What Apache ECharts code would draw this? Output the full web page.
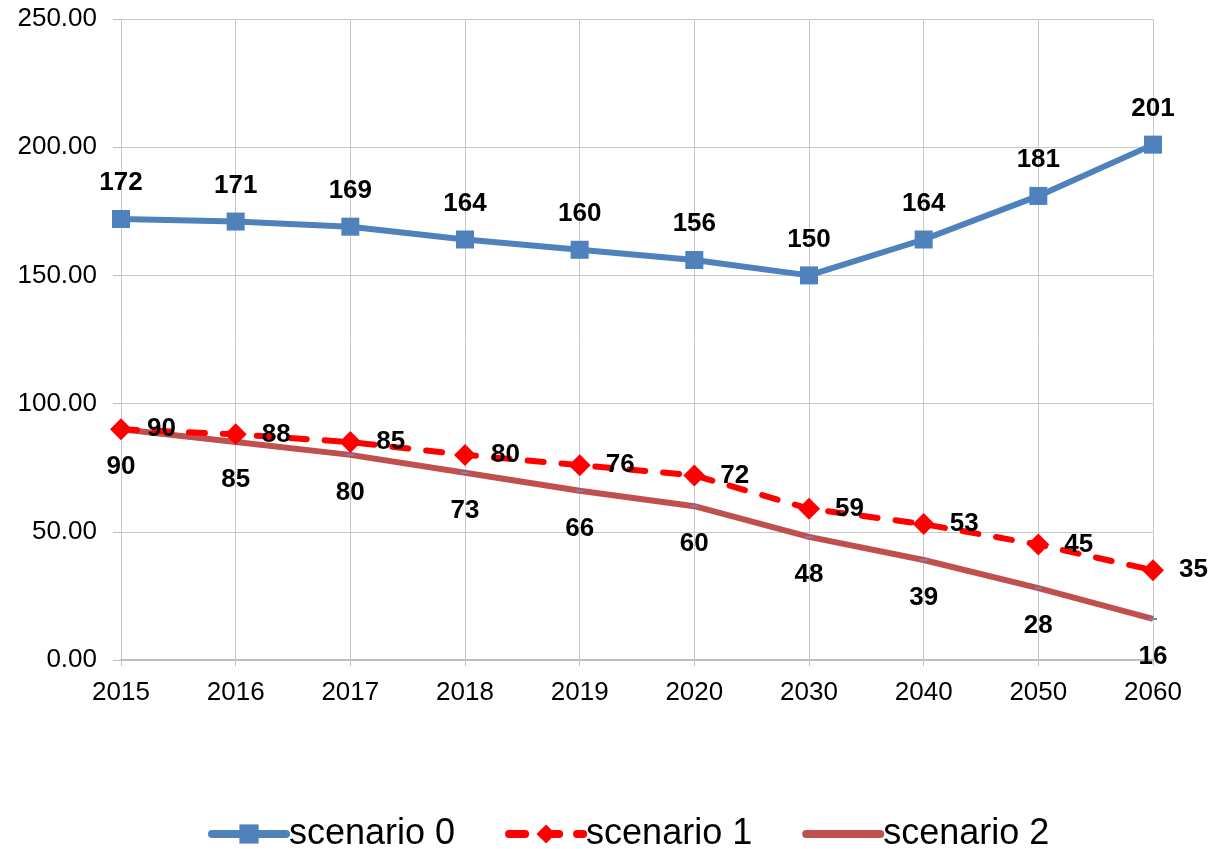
<!DOCTYPE html>
<html><head><meta charset="utf-8">
<script src="https://cdn.jsdelivr.net/npm/echarts@6/dist/echarts.min.js"></script>
<style>html,body{margin:0;padding:0;background:#fff}#c{width:1220px;height:849px}</style>
</head><body><div id="c"></div>
<script>
const categories = ['2015','2016','2017','2018','2019','2020','2030','2040','2050','2060'];
const scenario0 = [172, 171, 169, 164, 160, 156, 150, 164, 181, 201];
const scenario1 = [90, 88, 85, 80, 76, 72, 59, 53, 45, 35];
const scenario2 = [90, 85, 80, 73, 66, 60, 48, 39, 28, 16];
const seriesNames = ['scenario 0', 'scenario 1', 'scenario 2'];

const font = 'Liberation Sans, Arial, sans-serif';
const lbl = (pos, dist) => ({show: true, position: pos, distance: dist, fontFamily: font,
  fontSize: 26, fontWeight: 'bold', color: '#000', formatter: p => Math.round(p.value)});

const chart = echarts.init(document.getElementById('c'));
chart.setOption({
  animation: false,
  grid: {left: 121, right: 67, top: 19, bottom: 189},
  legend: {
    top: 811, left: 203, itemWidth: 74, itemHeight: 24, itemGap: 50,
    textStyle: {fontFamily: font, fontSize: 36, color: '#000', padding: [0, 0, 0, -2]},
    lineStyle: {width: 8, cap: 'round'},
    data: [
      {name: seriesNames[0]},
      {name: seriesNames[1]},
      {name: seriesNames[2], itemStyle: {opacity: 0}}
    ]
  },
  xAxis: {
    type: 'category', data: categories, boundaryGap: false,
    axisLine: {lineStyle: {color: '#bfbfbf', width: 2}},
    axisTick: {show: true, alignWithLabel: true, length: 6, lineStyle: {color: '#bfbfbf'}},
    splitLine: {show: true, lineStyle: {color: '#c8c8c8', width: 1}},
    axisLabel: {fontFamily: font, fontSize: 26, color: '#000', margin: 20}
  },
  yAxis: {
    type: 'value', min: 0, max: 250, interval: 50,
    axisLine: {show: true, lineStyle: {color: '#c8c8c8'}},
    axisTick: {show: true, length: 8, lineStyle: {color: '#bfbfbf'}},
    splitLine: {show: true, lineStyle: {color: '#c8c8c8', width: 1}},
    axisLabel: {fontFamily: font, fontSize: 26, color: '#000', margin: 24,
      formatter: v => v.toFixed(2)}
  },
  series: [
    {name: seriesNames[0], type: 'line', data: scenario0, symbol: 'rect', symbolSize: 18,
      lineStyle: {color: '#4F81BD', width: 6}, itemStyle: {color: '#4F81BD'},
      label: lbl('top', 14), z: 3},
    {name: seriesNames[1], type: 'line', data: scenario1, symbol: 'diamond', symbolSize: 22,
      lineStyle: {color: '#FF0000', width: 6, type: [16, 18], cap: 'round'}, itemStyle: {color: '#FF0000'},
      label: lbl('right', 15), z: 2},
    {name: seriesNames[2], type: 'line', data: scenario2, symbol: 'rect', symbolSize: [8, 2],
      lineStyle: {color: '#C0504D', width: 6}, itemStyle: {color: '#7F7FBF'},
      label: lbl('bottom', 24), z: 1}
  ]
});
</script></body></html>
